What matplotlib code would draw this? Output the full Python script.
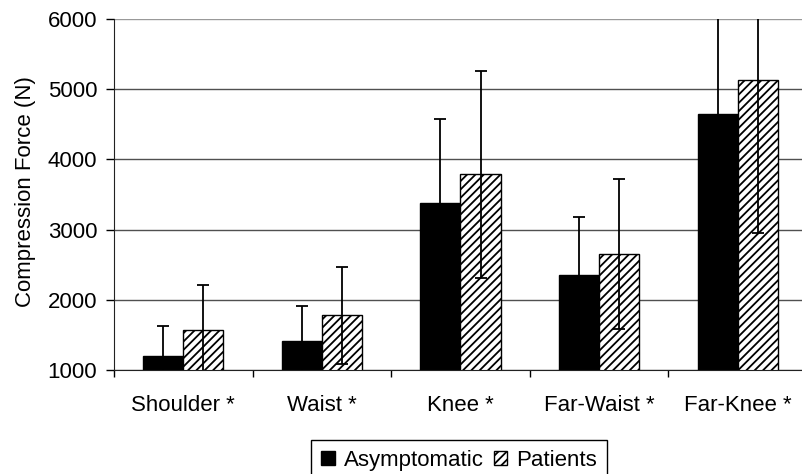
import matplotlib
matplotlib.use("Agg")
import matplotlib.pyplot as plt
import numpy as np

categories = ["Shoulder *", "Waist *", "Knee *", "Far-Waist *", "Far-Knee *"]
asymptomatic = [1205, 1420, 3385, 2355, 4645]
asymptomatic_sd = [425, 490, 1190, 830, 1700]
patients = [1565, 1780, 3790, 2650, 5130]
patients_sd = [650, 690, 1475, 1070, 2180]
series_labels = ["Asymptomatic", "Patients"]
y_ticks = [1000, 2000, 3000, 4000, 5000, 6000]

plt.rcParams['font.family'] = ['Liberation Sans', 'DejaVu Sans']
plt.rcParams['hatch.linewidth'] = 1.3
FS = 16

fig = plt.figure(figsize=(8.02, 4.74), dpi=100)
ax = fig.add_axes([114/802, 1-370/474, (807-114)/802, 351/474])

x = np.arange(len(categories))
w = 0.289
ax.bar(x - w/2, asymptomatic, w, color='black', edgecolor='black',
       linewidth=1, label=series_labels[0], zorder=2)
ax.bar(x + w/2, patients, w, color='white', edgecolor='black', hatch='////',
       linewidth=1, label=series_labels[1], zorder=2)
ax.errorbar(x - w/2, asymptomatic, yerr=asymptomatic_sd, fmt='none', ecolor='black',
            elinewidth=1.3, capsize=4.3, capthick=1.3, zorder=3)
ax.errorbar(x + w/2, patients, yerr=patients_sd, fmt='none', ecolor='black',
            elinewidth=1.3, capsize=4.3, capthick=1.3, zorder=3)

ax.set_xlim(-0.5, len(categories) - 0.5)
ax.set_ylim(y_ticks[0], y_ticks[-1])
ax.set_yticks(y_ticks)
ax.set_yticklabels([str(v) for v in y_ticks], fontsize=FS)
ax.tick_params(axis='y', length=6, width=1, pad=6, direction='out')

ax.set_xticks(np.arange(len(categories) + 1) - 0.5)
ax.set_xticklabels([])
ax.tick_params(axis='x', which='major', length=5, width=1, direction='out')
ax.set_xticks(x, minor=True)
ax.set_xticklabels(categories, minor=True, fontsize=FS)
ax.tick_params(axis='x', which='minor', length=0, pad=18)

ax.yaxis.grid(True, color='#505050', linewidth=1)
ax.set_axisbelow(True)
gl = ax.get_ygridlines()
gl[-1].set_color('#999999')
for s in ['top', 'right']:
    ax.spines[s].set_visible(False)
ax.spines['left'].set_color('#222222')
ax.spines['bottom'].set_color('#222222')

ax.set_ylabel("Compression Force (N)", fontsize=FS)
ax.yaxis.set_label_coords((36-114)/693, (370-192)/351)

leg = fig.legend(loc='upper center', bbox_to_anchor=(459/802, 1-440/474), ncol=2,
                 fontsize=FS, frameon=True, fancybox=False, framealpha=1,
                 edgecolor='black', borderaxespad=0, borderpad=0.45,
                 handlelength=0.62, handleheight=0.62, handletextpad=0.4,
                 columnspacing=0.45)
leg.get_frame().set_linewidth(1)

fig.savefig("out.png", dpi=100)
